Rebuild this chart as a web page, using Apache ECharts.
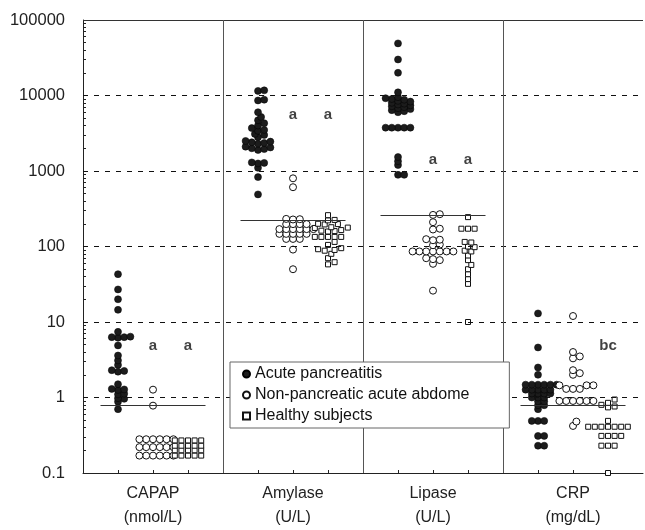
<!DOCTYPE html>
<html>
<head>
<meta charset="utf-8">
<script src="https://cdn.jsdelivr.net/npm/echarts@6/dist/echarts.min.js"></script>
<style>
  html, body { margin: 0; padding: 0; background: #fff; }
  #main { width: 645px; height: 530px; }
</style>
</head>
<body>
<div id="main"></div>
<script>
// test names (x axis), one per group
const groups = ['CAPAP\n(nmol/L)', 'Amylase\n(U/L)', 'Lipase\n(U/L)', 'CRP\n(mg/dL)'];
const seriesNames = ['Acute pancreatitis', 'Non-pancreatic acute abdome', 'Healthy subjects'];
const gridValues = [1, 10, 100, 1000, 10000];
// cut-off level drawn across each group
const cutoffs = [0.79, 220, 263, 0.79];

// values per group: CAPAP, Amylase, Lipase, CRP
const acute = [
  [43, 27, 20, 14.5, 7.4, 6.4, 6.3, 6.3, 6.2, 4.9, 3.6, 3.1, 2.7, 2.3, 2.25, 2.2,
   1.5, 1.3, 1.28, 1.26, 1.12, 1.1, 0.98, 0.96, 0.88, 0.7],
  [11700, 11500, 8800, 8600, 6000, 5200, 4700, 4300, 4000, 3700, 3500, 3400, 3100, 3000,
   2800, 2500, 2450, 2400, 2350, 2300, 2100, 2050, 2000, 1950, 1900,
   1300, 1280, 1260, 1100, 830, 490],
  [49000, 30000, 20000, 11000, 9500, 9200, 9000, 8800, 8500, 8300, 8000, 7800, 7600,
   7400, 7200, 7000, 6800, 6600, 6400, 6200, 6000,
   3750, 3750, 3750, 3750, 3750, 1530, 1350, 1200, 890, 890],
  [13, 4.6, 2.5, 2.0, 1.48, 1.48, 1.48, 1.48, 1.48, 1.48, 1.27, 1.27, 1.27, 1.27, 1.27,
   1.13, 1.13, 1.13, 1.13, 1.0, 1.0, 1.0, 0.89, 0.89, 0.79, 0.79, 0.7,
   0.49, 0.49, 0.49, 0.31, 0.31, 0.23, 0.23]
];
const nonPancreatic = [
  [1.27, 0.78, 0.28, 0.28, 0.28, 0.28, 0.28, 0.28, 0.22, 0.22, 0.22, 0.22, 0.22, 0.22,
   0.17, 0.17, 0.17, 0.17, 0.17, 0.17],
  [800, 610, 232, 230, 228, 198, 198, 198, 198, 170, 170, 170, 170, 170, 170,
   147, 147, 147, 147, 147, 126, 126, 126, 91, 50],
  [268, 262, 210, 172, 168, 125, 123, 121, 106, 104, 86, 86, 86, 86, 86, 86, 86,
   70, 68, 66, 59, 26],
  [12, 4.0, 3.5, 3.3, 2.3, 2.1, 2.0, 1.45, 1.45, 1.45, 1.3, 1.3, 1.3,
   0.9, 0.9, 0.9, 0.9, 0.9, 0.9, 0.48, 0.42]
];
const healthy = [
  [0.27, 0.27, 0.27, 0.27, 0.27, 0.23, 0.23, 0.23, 0.23, 0.23, 0.2, 0.2, 0.2, 0.2, 0.2,
   0.17, 0.17, 0.17, 0.17, 0.17],
  [260, 225, 222, 200, 198, 196, 180, 178, 176, 165, 162, 160, 158, 134, 134, 134, 134, 134,
   115, 105, 95, 92, 90, 88, 80, 70, 62, 58],
  [245, 172, 172, 172, 115, 113, 100, 98, 88, 86, 76, 66, 57, 50, 43, 37, 32, 10],
  [0.94, 0.85, 0.8, 0.76, 0.74, 0.49, 0.41, 0.41, 0.41, 0.41, 0.41, 0.41, 0.41,
   0.31, 0.31, 0.31, 0.31, 0.23, 0.23, 0.23, 0.1]
];

// significance letters: group, subgroup (0..2), height, text
const letters = [
  [0, 1, 4.9, 'a'], [0, 2, 4.9, 'a'],
  [1, 1, 5600, 'a'], [1, 2, 5600, 'a'],
  [2, 1, 1400, 'a'], [2, 2, 1400, 'a'],
  [3, 2, 4.9, 'bc']
];

const PLOT_H = 460, PLOT_W = 560;
const PX_DECADE = PLOT_H / 6;
const PX_UNIT = PLOT_W / 16;

// simple beeswarm: push points sideways until they stop overlapping
function swarm(values, gx, gy) {
  const pts = values.slice().sort((a, b) => a - b)
    .map(v => ({ v: v, y: Math.log10(v) * PX_DECADE, x: 0 }));
  const placed = [];
  pts.forEach(p => {
    for (let k = 0; k < 400; k++) {
      const step = Math.ceil(k / 2) * gx / 2;
      const dx = k % 2 ? step : -step;
      const ok = placed.every(q => {
        const a = (q.x - dx) / gx, b = (q.y - p.y) / gy;
        return a * a + b * b >= 0.98;
      });
      if (ok) { p.x = dx; break; }
    }
    placed.push(p);
  });
  return pts;
}

function build(sets, sub, gx, gy) {
  const out = [];
  sets.forEach((vals, g) => {
    swarm(vals, gx, gy).forEach(p => {
      out.push([g * 4 + sub + 1 + p.x / PX_UNIT, p.v]);
    });
  });
  return out;
}

// log ticks on the y axis: 1..9 in every decade
const yTicks = [];
for (let d = -1; d < 5; d++) {
  for (let m = 1; m < 10; m++) yTicks.push(parseFloat((m * Math.pow(10, d)).toPrecision(2)));
}
yTicks.push(100000);

const font = 'Liberation Sans, Arial, sans-serif';

const refLines = [];
gridValues.forEach(v => refLines.push({ yAxis: v, lineStyle: { type: [5, 6], color: '#111' } }));
refLines.push({ yAxis: 100000, lineStyle: { type: 'solid', color: '#333' } });
[4, 8, 12].forEach(x => refLines.push({ xAxis: x, lineStyle: { type: 'solid', color: '#555' } }));
cutoffs.forEach((c, g) => refLines.push([
  { coord: [g * 4 + 0.5, c], lineStyle: { type: 'solid', color: '#333', width: 1 } },
  { coord: [g * 4 + 3.5, c] }
]));

const myChart = echarts.init(document.getElementById('main'));
const option = {
  animation: false,
  textStyle: { fontFamily: font },
  grid: { left: 83, right: 2, top: 20, bottom: 50 },
  xAxis: {
    type: 'value',
    min: 0,
    max: 16,
    splitLine: { show: false },
    axisLine: { show: true, lineStyle: { color: '#222' } },
    axisTick: { show: true, inside: true, length: 3, customValues: [1, 2, 3, 5, 6, 7, 9, 10, 11, 13, 14, 15] },
    axisLabel: {
      customValues: [2, 6, 10, 14],
      formatter: v => groups[Math.round((v - 2) / 4)],
      fontSize: 16,
      lineHeight: 24,
      color: '#222',
      margin: 9
    }
  },
  yAxis: {
    type: 'log',
    logBase: 10,
    min: 0.1,
    max: 100000,
    splitLine: { show: false },
    axisLine: { show: true, lineStyle: { color: '#222' } },
    axisTick: { show: true, inside: true, length: 3, customValues: yTicks },
    axisLabel: {
      fontSize: 16.5,
      color: '#222',
      margin: 18,
      formatter: v => v < 1 ? '0.1' : String(Math.round(v))
    }
  },
  legend: {
    data: [
      { name: seriesNames[0], icon: 'circle' },
      { name: seriesNames[1], icon: 'circle' },
      { name: seriesNames[2], icon: 'rect' }
    ],
    orient: 'vertical',
    left: 230,
    top: 362,
    itemWidth: 7,
    itemHeight: 7,
    itemGap: 5,
    padding: [4, 40, 4, 12],
    backgroundColor: '#fff',
    borderColor: '#666',
    borderWidth: 1,
    textStyle: { fontSize: 16, color: '#111', fontFamily: font },
    selectedMode: false,
    z: 10
  },
  series: [
    {
      type: 'scatter',
      data: [],
      z: 1,
      silent: true,
      markLine: {
        silent: true,
        symbol: 'none',
        label: { show: false },
        lineStyle: { width: 1 },
        data: refLines
      }
    },
    {
      name: seriesNames[0],
      type: 'scatter',
      z: 3,
      symbol: 'circle',
      symbolSize: 7,
      itemStyle: { color: '#1c1c1c', borderColor: '#000', borderWidth: 0.5, opacity: 1 },
      data: build(acute, 0, 6.2, 3.5)
    },
    {
      name: seriesNames[1],
      type: 'scatter',
      z: 3,
      symbol: 'circle',
      symbolSize: 7,
      itemStyle: { color: '#fff', borderColor: '#111', borderWidth: 1, opacity: 1 },
      data: build(nonPancreatic, 1, 6.8, 4.5)
    },
    {
      name: seriesNames[2],
      type: 'scatter',
      z: 3,
      symbol: 'rect',
      symbolSize: 5,
      itemStyle: { color: '#fff', borderColor: '#111', borderWidth: 1, opacity: 1 },
      data: build(healthy, 2, 6.6, 4.5)
    },
    {
      type: 'scatter',
      z: 4,
      silent: true,
      symbolSize: 1,
      itemStyle: { color: 'rgba(0,0,0,0)' },
      label: {
        show: true,
        position: 'inside',
        formatter: p => p.data[2],
        fontSize: 15,
        fontWeight: 'bold',
        color: '#111'
      },
      data: letters.map(l => [l[0] * 4 + l[1] + 1, l[2], l[3]])
    }
  ]
};
window.onresize = myChart.resize;
myChart.setOption(option);
</script>
</body>
</html>
